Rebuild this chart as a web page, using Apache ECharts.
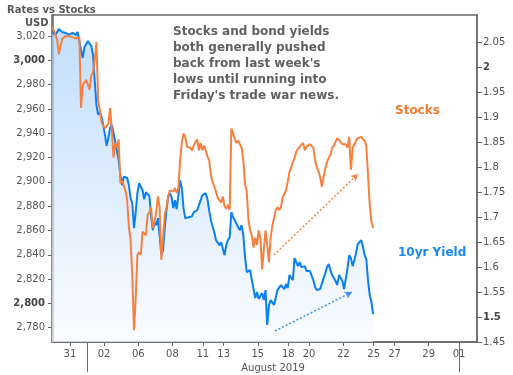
<!DOCTYPE html>
<html><head><meta charset="utf-8">
<script src="https://cdn.jsdelivr.net/npm/echarts@6/dist/echarts.min.js"></script>
<style>html,body{margin:0;padding:0;background:#fff}#c{width:513px;height:375px}</style>
</head><body><div id="c"></div>
<script>
// time axis: trading-day units (weekends compressed), Jul 31 00:00 = 1
const sampleStart = -0.05, sampleStep = 0.1;
const stocks = [
  3027,3025, 3021,3017, 3005,3012, 3018,3019, 3020,3021, 3020,3020, 3019,3018, 3018,3019, 3019,2961, 2980,2980,
  2984,2980, 2976,2988, 2990,3000, 3015,2967, 2959,2949, 2949,2944, 2946,2948, 2961,2943, 2920,2932, 2928,2935,
  2899,2901, 2900,2893, 2885,2863, 2852,2823, 2778,2804, 2840,2842, 2840,2859, 2860,2856, 2873,2875, 2879,2862,
  2867,2875, 2888,2879, 2836,2854, 2873,2879, 2888,2893, 2893,2892, 2895,2891, 2895,2918, 2932,2940, 2937,2929,
  2930,2928, 2926,2930, 2933,2935, 2926,2932, 2926,2930, 2926,2921, 2918,2906, 2900,2896, 2892,2887, 2888,2883,
  2888,2880, 2878,2881, 2877,2944, 2940,2935, 2932,2934, 2933,2928, 2918,2898, 2892,2869, 2860,2856, 2846,2854,
  2848,2860, 2854,2828, 2844,2860, 2848,2834, 2854,2864, 2870,2877, 2879,2877, 2879,2887, 2890,2893, 2900,2908,
  2912,2916, 2920,2925, 2926,2929, 2930,2932, 2926,2929, 2930,2931, 2932,2928, 2918,2912, 2909,2904, 2896,2904,
  2911,2916, 2920,2922, 2928,2930, 2929,2936, 2935,2933, 2931,2930, 2931,2928, 2937,2910, 2928,2931, 2934,2936,
  2936,2937, 2936,2934, 2930,2906, 2881,2867, 2862];
const yields = [
  2.071,2.069, 2.065,2.069, 2.077,2.079, 2.071,2.067, 2.069,2.069, 2.065,2.067, 2.069,2.067, 2.065,2.071, 2.075,2.035, 2.019,2.041,
  2.045,2.053, 2.057,2.043, 2.025,2.025, 1.925,1.905, 1.911,1.901, 1.885,1.865, 1.843,1.859, 1.879,1.885, 1.869,1.851, 1.849,1.815,
  1.785,1.764, 1.781,1.785, 1.779,1.764, 1.738,1.728, 1.678,1.710, 1.748,1.768, 1.766,1.754, 1.736,1.750, 1.754,1.742, 1.704,1.674,
  1.690,1.684, 1.698,1.664, 1.624,1.634, 1.678,1.714, 1.740,1.748, 1.740,1.718, 1.734,1.716, 1.744,1.774, 1.758,1.718, 1.698,1.698,
  1.700,1.696, 1.702,1.710, 1.712,1.714, 1.714,1.734, 1.744,1.744, 1.748,1.736, 1.714,1.694, 1.690,1.670, 1.654,1.652, 1.644,1.650,
  1.648,1.624, 1.644,1.654, 1.660,1.710, 1.700,1.694, 1.690,1.680, 1.674,1.684, 1.664,1.620, 1.590,1.588, 1.594,1.574, 1.574,1.538,
  1.550,1.536, 1.542,1.548, 1.534,1.554, 1.484,1.524, 1.534,1.538, 1.524,1.524, 1.554,1.550, 1.564,1.564, 1.556,1.566, 1.558,1.584,
  1.580,1.574, 1.618,1.610, 1.602,1.610, 1.600,1.604, 1.602,1.592, 1.588,1.592, 1.592,1.574, 1.560,1.554, 1.558,1.556, 1.554,1.578,
  1.588,1.600, 1.606,1.594, 1.584,1.578, 1.572,1.564, 1.584,1.578, 1.572,1.556, 1.560,1.598, 1.624,1.618, 1.602,1.614, 1.628,1.646,
  1.642,1.654, 1.642,1.624, 1.616,1.574, 1.544,1.530, 1.506];
const xTickValues = [1,3,5,7,8.78,10,12,13.78,15,17,18.78,20,22,23.78];
const xTickLabels = ['31','02','06','08','11','13','15','18','20','22','25','27','29','01'];
const monthBounds = [2, 23.78];
const monthCenter = [12.89];
const monthLabel = 'August 2019';
const leftTicks = [2780,2800,2820,2840,2860,2880,2900,2920,2940,2960,2980,3000,3020];
const leftBold = [3000, 2800];
const rightTicks = [1.45,1.5,1.55,1.6,1.65,1.7,1.75,1.8,1.85,1.9,1.95,2,2.05];
const rightBold = [2, 1.5];
const stockArrow = [[12.94, 2839.8], [17.86, 2906.5]];
const yieldArrow = [[13.0, 1.472], [17.51, 1.550]];

const FONT = 'DejaVu Sans';
const times = stocks.map((_, i) => +(sampleStart + i * sampleStep).toFixed(3));
const stockData = stocks.map((v, i) => [times[i], v]);
const yieldData = yields.map((v, i) => [times[i], v]);
const xMin = -0.05, xMax = 24.83;
const axisColor = '#6a6a6a', labelColor = '#555';

const chart = echarts.init(document.getElementById('c'), null, {renderer: 'canvas'});
chart.setOption({
  animation: false,
  backgroundColor: '#fff',
  title: {text: 'Rates vs Stocks', left: 2, top: 0,
    textStyle: {fontFamily: FONT, fontSize: 10, fontWeight: 'bold', color: '#595959'}},
  grid: [
    {left: 52, right: 36, top: 15, bottom: 33, show: true, borderColor: axisColor, borderWidth: 1.5, backgroundColor: 'transparent'},
    {left: 52, right: 36, top: 15, bottom: 33, show: false}
  ],
  xAxis: [
    {type: 'value', gridIndex: 0, min: xMin, max: xMax,
      axisLine: {show: true, lineStyle: {color: axisColor, width: 1.5}},
      axisTick: {show: true, customValues: xTickValues, length: 4, lineStyle: {color: axisColor}},
      axisLabel: {customValues: xTickValues, margin: 7, color: labelColor, fontFamily: FONT, fontSize: 10,
        formatter: v => { const k = xTickValues.findIndex(t => Math.abs(t - v) < 1e-6); return k >= 0 ? xTickLabels[k] : ''; }},
      splitLine: {show: false}},
    {type: 'value', gridIndex: 1, min: xMin, max: xMax,
      axisLine: {show: false},
      axisTick: {show: true, customValues: monthBounds, length: 30, lineStyle: {color: axisColor}},
      axisLabel: {customValues: monthCenter, margin: 21, color: labelColor, fontFamily: FONT, fontSize: 10,
        formatter: () => monthLabel},
      splitLine: {show: false}}
  ],
  yAxis: [
    {type: 'value', gridIndex: 0, min: 2768.2, max: 3037.4, position: 'left',
      axisLine: {show: true, lineStyle: {color: axisColor, width: 1.5}},
      axisTick: {show: true, customValues: leftTicks, length: 5, lineStyle: {color: axisColor}},
      axisLabel: {customValues: leftTicks, margin: 7, color: labelColor, fontFamily: FONT, fontSize: 10,
        formatter: v => { const s = Math.round(v).toLocaleString('en-US'); return leftBold.includes(Math.round(v)) ? '{b|' + s + '}' : s; },
        rich: {b: {fontWeight: 'bold', color: '#444', fontFamily: FONT, fontSize: 10}}},
      splitLine: {show: false}},
    {type: 'value', gridIndex: 0, min: 1.45, max: 2.105, position: 'right',
      axisLine: {show: true, lineStyle: {color: axisColor, width: 1.5}},
      axisTick: {show: true, customValues: rightTicks, length: 5, lineStyle: {color: axisColor}},
      axisLabel: {customValues: rightTicks, margin: 6, color: labelColor, fontFamily: FONT, fontSize: 10,
        formatter: v => { const n = +v.toFixed(2); const s = String(n); return rightBold.some(b => Math.abs(b - n) < 1e-9) ? '{b|' + s + '}' : s; },
        rich: {b: {fontWeight: 'bold', color: '#444', fontFamily: FONT, fontSize: 10}}},
      splitLine: {show: false}},
    {type: 'value', gridIndex: 1, show: false}
  ],
  series: [
    {name: '10yr Yield', type: 'line', xAxisIndex: 0, yAxisIndex: 1, data: yieldData,
      showSymbol: false, symbol: 'none', lineStyle: {color: '#0a7ff2', width: 2}, itemStyle: {color: '#0a7ff2'},
      areaStyle: {origin: 'start', color: new echarts.graphic.LinearGradient(0, 0, 0, 1, [
        {offset: 0, color: '#a9d0f9'}, {offset: 1, color: '#f8fbff'}])},
      markLine: {silent: true, symbol: ['none', 'arrow'], symbolSize: [6, 7],
        lineStyle: {color: '#3b93f0', type: [2, 2], width: 1.5}, label: {show: false},
        data: [[{coord: yieldArrow[0]}, {coord: yieldArrow[1]}]]}},
    {name: 'Stocks', type: 'line', xAxisIndex: 0, yAxisIndex: 0, data: stockData,
      showSymbol: false, symbol: 'none', lineStyle: {color: '#f7803f', width: 2}, itemStyle: {color: '#f7803f'},
      markLine: {silent: true, symbol: ['none', 'arrow'], symbolSize: [6, 7],
        lineStyle: {color: '#f5843f', type: [2, 2], width: 1.5}, label: {show: false},
        data: [[{coord: stockArrow[0]}, {coord: stockArrow[1]}]]}}
  ],
  graphic: [
    {type: 'text', left: 25, top: 18, style: {text: 'USD', fill: '#555', font: 'bold 10px "DejaVu Sans"'}},
    {type: 'text', left: 173, top: 24, style: {text: "Stocks and bond yields\nboth generally pushed\nback from last week's\nlows until running into\nFriday's trade war news.",
      fill: '#606060', font: 'bold 12px "DejaVu Sans"', lineHeight: 16}},
    {type: 'text', left: 395, top: 105, style: {text: 'Stocks', fill: '#f47b2c', font: 'bold 12px "DejaVu Sans"'}},
    {type: 'text', left: 398, top: 247, style: {text: '10yr Yield', fill: '#1c86f0', font: 'bold 12px "DejaVu Sans"'}}
  ]
});
</script></body></html>
